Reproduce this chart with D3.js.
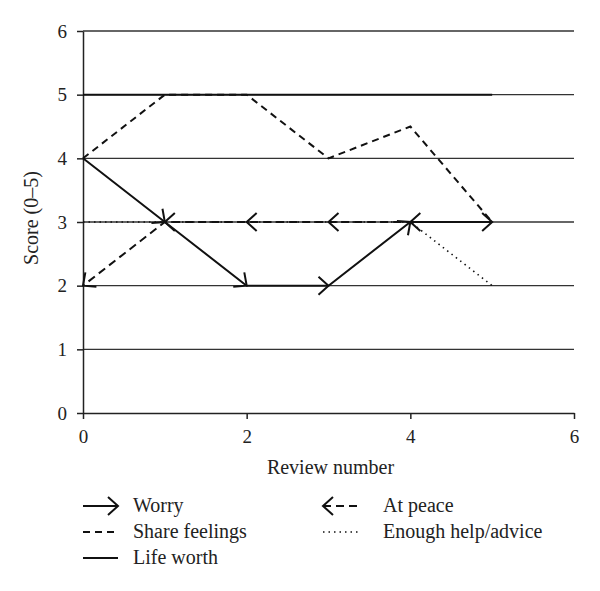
<!DOCTYPE html>
<head>
    <meta charset="utf-8">
    <title>Scores by review</title>
    <style>
        body { margin: 0; background: #fff; }
        text { font-family: "Liberation Serif", "DejaVu Serif", serif; fill: #222; }
    </style>
</head>
<body>
<svg width="600" height="591"></svg>
<script src="https://cdn.jsdelivr.net/npm/d3@7"></script>
<script>

    // data
    var reviews = [0, 1, 2, 3, 4, 5];
    var worry = [4, 3, 2, 2, 3, 3];
    var atPeace = [2, 3, 3, 3, 3, 3];
    var shareFeelings = [4, 5, 5, 4, 4.5, 3];
    var lifeWorth = [5, 5, 5, 5, 5, 5];
    var enoughHelp = [3, 3, 3, 3, 3, 2];
    var xTicks = [0, 2, 4, 6];
    var yTicks = [0, 1, 2, 3, 4, 5, 6];

    var svg = d3.select("svg"),
        margin = {top: 31, right: 26, bottom: 178, left: 83},
        width = svg.attr("width") - margin.left - margin.right,
        height = svg.attr("height") - margin.top - margin.bottom;

    var x = d3.scaleLinear().domain([0, 6]).range([0, width]),
        y = d3.scaleLinear().domain([0, 6]).range([height, 0]);

    var chevron = "M-10,-9L0,0L-10,9";

    var g = svg.append("g")
        .attr("transform", "translate(" + margin.left + "," + margin.top + ")");

    // horizontal gridlines
    g.selectAll(".grid")
        .data(yTicks.slice(1))
        .enter().append("line")
        .attr("class", "grid")
        .attr("x1", 0).attr("x2", width)
        .attr("y1", function(d) { return y(d); })
        .attr("y2", function(d) { return y(d); })
        .attr("stroke", "#333")
        .attr("stroke-width", 1.3);

    // axes
    var xAxis = g.append("g")
        .attr("transform", "translate(0," + height + ")")
        .call(d3.axisBottom(x).tickValues(xTicks).tickFormat(d3.format("d"))
            .tickSize(6).tickPadding(11).tickSizeOuter(0));
    var yAxis = g.append("g")
        .call(d3.axisLeft(y).tickValues(yTicks).tickFormat(d3.format("d"))
            .tickSize(6).tickPadding(10).tickSizeOuter(0));

    [xAxis, yAxis].forEach(function(a) {
        a.attr("font-family", "Liberation Serif").attr("font-size", 19);
        a.select(".domain").attr("stroke", "#222").attr("stroke-width", 1.5);
        a.selectAll(".tick line").attr("stroke", "#222").attr("stroke-width", 1.5);
        a.selectAll("text").attr("fill", "#222");
    });

    var line = d3.line()
        .x(function(d) { return x(d[0]); })
        .y(function(d) { return y(d[1]); });

    var series = [
        {name: "Life worth", values: lifeWorth, dash: null, arrows: false, reverse: false},
        {name: "Share feelings", values: shareFeelings, dash: "7,5", arrows: false, reverse: false},
        {name: "Enough help/advice", values: enoughHelp, dash: "1.5,4", arrows: false, reverse: false},
        {name: "At peace", values: atPeace, dash: "8,5", arrows: true, reverse: true},
        {name: "Worry", values: worry, dash: null, arrows: true, reverse: false}
    ];

    series.forEach(function(s) {
        var pts = reviews.map(function(r, i) { return [r, s.values[i]]; });
        if (s.reverse) pts.reverse();   // at peace is drawn from the last review back to the first
        g.append("path")
            .datum(pts)
            .attr("d", line)
            .attr("fill", "none")
            .attr("stroke", "#111")
            .attr("stroke-width", s.dash === "1.5,4" ? 1.6 : 2)
            .attr("stroke-dasharray", s.dash);
        if (s.arrows) {
            // an arrow head on every point after the first, turned along the incoming segment
            g.selectAll(null)
                .data(pts.slice(1).map(function(p, i) { return [pts[i], p]; }))
                .enter().append("path")
                .attr("d", chevron)
                .attr("fill", "none")
                .attr("stroke", "#111")
                .attr("stroke-width", 2)
                .attr("transform", function(d) {
                    var x0 = x(d[0][0]), y0 = y(d[0][1]), x1 = x(d[1][0]), y1 = y(d[1][1]);
                    var a = Math.atan2(y1 - y0, x1 - x0) * 180 / Math.PI;
                    return "translate(" + x1 + "," + y1 + ") rotate(" + a + ")";
                });
        }
    });

    // axis titles
    svg.append("text")
        .attr("x", margin.left + width / 2 + 2)
        .attr("y", 474)
        .attr("text-anchor", "middle")
        .style("font-size", "20px")
        .text("Review number");

    svg.append("text")
        .attr("transform", "translate(38," + (margin.top + height / 2 - 4) + ") rotate(-90)")
        .attr("text-anchor", "middle")
        .style("font-size", "20px")
        .text("Score (0\u20135)");

    // legend
    var legend = [
        {name: "Worry", col: 0, row: 0, dash: null, arrow: "right"},
        {name: "Share feelings", col: 0, row: 1, dash: "7,5", arrow: null},
        {name: "Life worth", col: 0, row: 2, dash: null, arrow: null},
        {name: "At peace", col: 1, row: 0, dash: "8,5", arrow: "left"},
        {name: "Enough help/advice", col: 1, row: 1, dash: "1.5,4", arrow: null}
    ];
    var colX = [83, 323], rowY = [506, 532, 558];

    var item = svg.selectAll(".legend")
        .data(legend)
        .enter().append("g")
        .attr("class", "legend")
        .attr("transform", function(d) { return "translate(" + colX[d.col] + "," + rowY[d.row] + ")"; });

    item.append("line")
        .attr("x1", 0).attr("x2", 35)
        .attr("y1", 0).attr("y2", 0)
        .attr("stroke", "#111")
        .attr("stroke-width", function(d) { return d.dash === "1.5,4" ? 1.4 : 2; })
        .attr("stroke-dasharray", function(d) { return d.dash; });

    item.filter(function(d) { return d.arrow; })
        .append("path")
        .attr("d", chevron)
        .attr("fill", "none")
        .attr("stroke", "#111")
        .attr("stroke-width", 2)
        .attr("transform", function(d) { return d.arrow === "left" ? "translate(0,0) rotate(180)" : "translate(35,0)"; });

    item.append("text")
        .attr("x", function(d) { return d.col === 0 ? 50 : 60; })
        .attr("y", 6)
        .style("font-size", "20px")
        .text(function(d) { return d.name; });

</script>
</body>
